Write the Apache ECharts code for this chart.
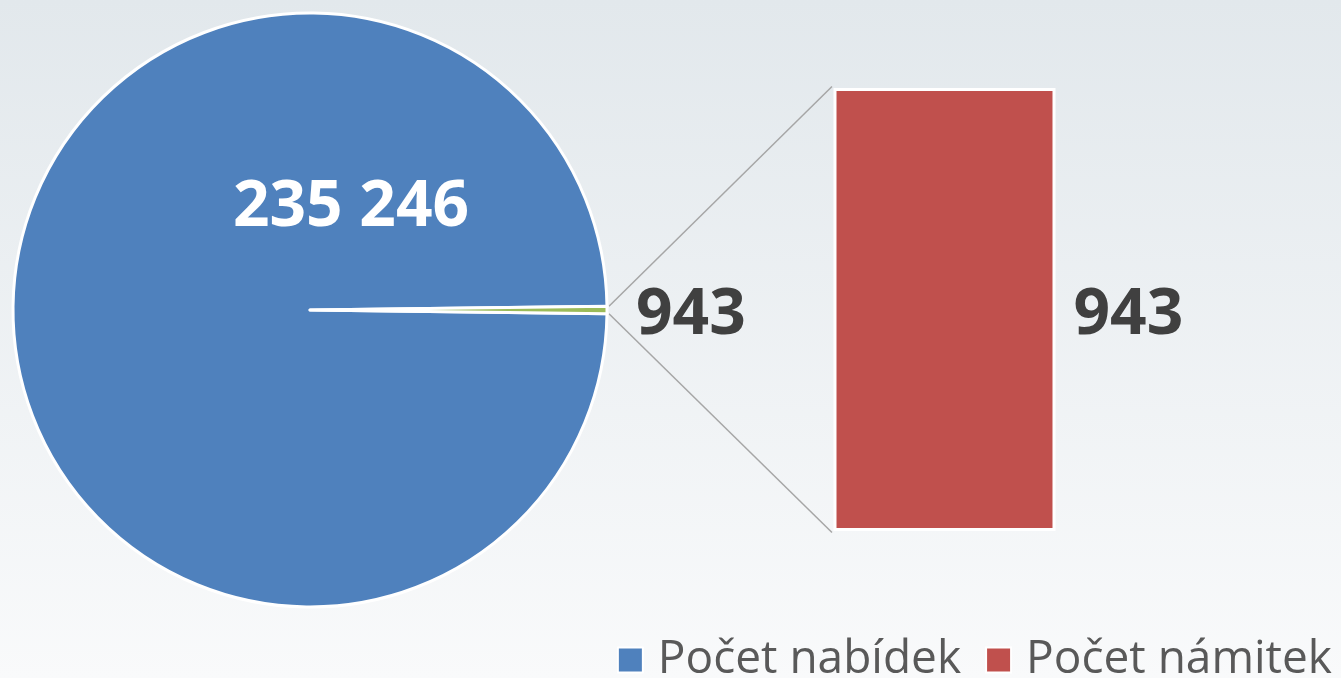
<!DOCTYPE html>
<html>
<head>
<meta charset="utf-8">
<script src="https://cdn.jsdelivr.net/npm/echarts@6/dist/echarts.min.js"></script>
<style>
  html, body { margin: 0; padding: 0; }
  #chart { width: 1341px; height: 678px; }
</style>
</head>
<body>
<div id="chart"></div>
<script>
// data
const pieNames = ['Počet nabídek', 'Ostatní']
const pieValues = [235246, 943]
const barCategories = ['Počet námitek']
const barValues = [943]
const legendNames = ['Počet nabídek', 'Počet námitek']

const colors = { blue: '#4f81bd', green: '#9bbb59', red: '#c0504d' }
const center = [310, 310]
const radius = 297
const font = '"Open Sans", "Noto Sans", sans-serif'

// small slice centred on 3 o'clock
const total = pieValues[0] + pieValues[1]
const smallDeg = pieValues[1] / total * 360
const startAngle = -smallDeg / 2

const fmt = v => String(v).replace(/\B(?=(\d{3})+(?!\d))/g, ' ')

const chart = echarts.init(document.getElementById('chart'))
chart.setOption({
  backgroundColor: {
    type: 'linear', x: 0, y: 0, x2: 0, y2: 1,
    colorStops: [{ offset: 0, color: '#e2e8ec' }, { offset: 1, color: '#f9fafb' }]
  },
  animation: false,
  legend: {
    data: legendNames.map((n, i) => ({ name: n, itemStyle: { color: i === 0 ? colors.blue : colors.red } })),
    right: 4,
    top: 632,
    itemWidth: 25,
    itemHeight: 25,
    itemGap: 24,
    icon: 'rect',
    textStyle: { fontSize: 46, color: '#595959', fontFamily: font, padding: [0, 0, 0, 10] }
  },
  grid: { left: 833.5, width: 222, top: 88, bottom: 147 },
  xAxis: { type: 'category', data: barCategories, show: false },
  yAxis: { type: 'value', min: 0, max: 943, show: false },
  series: [
    {
      type: 'pie',
      center: center,
      radius: radius,
      startAngle: startAngle,
      clockwise: true,
      data: pieNames.map((n, i) => ({
        name: n,
        value: pieValues[i],
        itemStyle: { color: i === 0 ? colors.blue : colors.green },
        label: i === 0
          ? { position: 'inside', color: '#ffffff' }
          : { position: 'outside', color: '#404040' }
      })),
      itemStyle: { borderColor: '#ffffff', borderWidth: 3 },
      label: {
        show: true,
        formatter: p => fmt(p.value),
        fontSize: 64,
        fontWeight: 'bold',
        fontFamily: font
      },
      labelLine: { show: false },
      labelLayout: p => p.dataIndex === 0
        ? { x: 351, y: 208, align: 'center', verticalAlign: 'middle' }
        : { x: 636, y: 316, align: 'left', verticalAlign: 'middle' },
      emphasis: { disabled: true }
    },
    {
      type: 'bar',
      name: 'Počet námitek',
      data: barValues,
      barWidth: '100%',
      itemStyle: { color: colors.red, borderColor: '#ffffff', borderWidth: 3 },
      label: {
        show: true,
        position: 'right',
        distance: 18,
        offset: [0, 6],
        formatter: p => fmt(p.value),
        fontSize: 64,
        fontWeight: 'bold',
        color: '#404040',
        fontFamily: font
      },
      emphasis: { disabled: true }
    }
  ]
})

// connector lines from small slice to bar corners
const rad = a => a * Math.PI / 180
const upA = startAngle + smallDeg
const loA = startAngle
const p1 = [center[0] + radius * Math.cos(rad(upA)), center[1] - radius * Math.sin(rad(upA))]
const p2 = [center[0] + radius * Math.cos(rad(loA)), center[1] - radius * Math.sin(rad(loA))]
const topY = chart.convertToPixel({ yAxisIndex: 0 }, barValues[0])
const botY = chart.convertToPixel({ yAxisIndex: 0 }, 0)
const barLeft = 833.5 - 1.5
const lineStyle = { stroke: '#a6a6a6', lineWidth: 1.5 }
chart.setOption({
  graphic: [
    { type: 'line', shape: { x1: p1[0] + 2, y1: p1[1], x2: barLeft, y2: topY - 1.5 }, style: lineStyle, z: 0 },
    { type: 'line', shape: { x1: p2[0] + 2, y1: p2[1], x2: barLeft, y2: botY + 1.5 }, style: lineStyle, z: 0 }
  ]
})
</script>
</body>
</html>
